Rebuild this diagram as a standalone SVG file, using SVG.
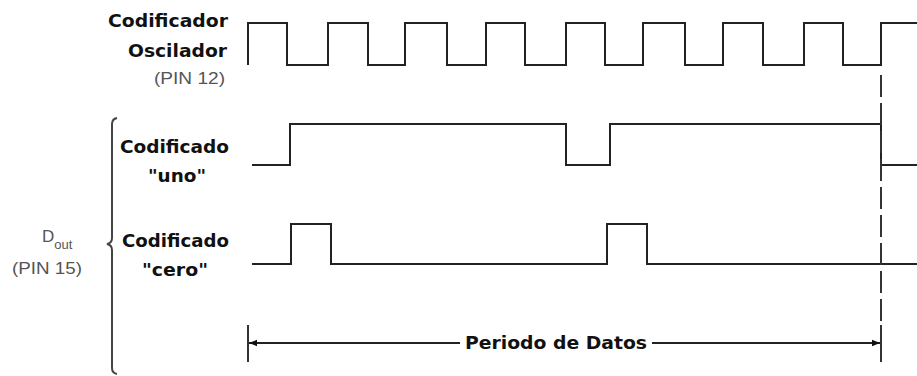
<svg xmlns="http://www.w3.org/2000/svg" width="917" height="376" viewBox="0 0 917 376">
<style>
.sig{fill:none;stroke:#222;stroke-width:2;stroke-linejoin:miter}
.lbl{font-family:"DejaVu Sans",sans-serif;font-weight:bold;font-size:18px;fill:#111}
.pin{font-family:"Liberation Sans",Arial,sans-serif;font-size:17px;fill:#555}
.ln{fill:none;stroke:#222;stroke-width:2}
</style>
<defs>
<marker id="ah" viewBox="0 0 10 10" refX="10" refY="5" markerWidth="8" markerHeight="8" orient="auto-start-reverse" markerUnits="userSpaceOnUse">
<path d="M0,1 L10,5 L0,9 Z" fill="#111"/>
</marker>
</defs>
<rect width="917" height="376" fill="#fff"/>
<g id="labels">
<text class="lbl" x="108" y="27" textLength="120" lengthAdjust="spacingAndGlyphs">Codificador</text>
<text class="lbl" x="128" y="57" textLength="99" lengthAdjust="spacingAndGlyphs">Oscilador</text>
<text class="pin" x="154" y="84" textLength="71" lengthAdjust="spacingAndGlyphs">(PIN 12)</text>
<text class="lbl" x="120" y="153" textLength="109" lengthAdjust="spacingAndGlyphs">Codificado</text>
<text class="lbl" x="148" y="182" textLength="58" lengthAdjust="spacingAndGlyphs">"uno"</text>
<text class="lbl" x="122" y="247" textLength="107" lengthAdjust="spacingAndGlyphs">Codificado</text>
<text class="lbl" x="142" y="276" textLength="66" lengthAdjust="spacingAndGlyphs">"cero"</text>
<text class="pin" x="42" y="242">D<tspan font-size="13" dy="7">out</tspan></text>
<text class="pin" x="12" y="274" textLength="70" lengthAdjust="spacingAndGlyphs">(PIN 15)</text>
</g>
<g id="brace">
<path d="M117,118 Q112,119 112,124 V238 Q112,243 107,244 Q112,245 112,250 V368 Q112,373 117,374" fill="none" stroke="#444" stroke-width="2"/>
</g>
<g id="clock">
<path class="sig" d="M248,65 V23 H287 V65 H328 V23 H368 V65 H405 V23 H447 V65 H486 V23 H525 V65 H566 V23 H605 V65 H643 V23 H685 V65 H723 V23 H763 V65 H804 V23 H843 V65 H881 V23 H917"/>
</g>
<g id="uno">
<path class="sig" d="M252,165 H290 V124 H566 V165 H610 V124 H881 V165 H917"/>
</g>
<g id="cero">
<path class="sig" d="M252,264 H291 V224 H331 V264 H607 V224 H647 V264 H917"/>
</g>
<g id="connectors">
<line x1="881" y1="75" x2="881" y2="330" stroke="#333" stroke-width="2" stroke-dasharray="22 6"/>
<line x1="881" y1="325" x2="881" y2="362" stroke="#333" stroke-width="2"/>
<line x1="248" y1="325" x2="248" y2="362" stroke="#333" stroke-width="2"/>
<line class="ln" x1="460" y1="343" x2="249" y2="343" marker-end="url(#ah)"/>
<line class="ln" x1="652" y1="343" x2="880" y2="343" marker-end="url(#ah)"/>
<text class="lbl" x="465" y="349" textLength="182" lengthAdjust="spacingAndGlyphs">Periodo de Datos</text>
</g>
</svg>
